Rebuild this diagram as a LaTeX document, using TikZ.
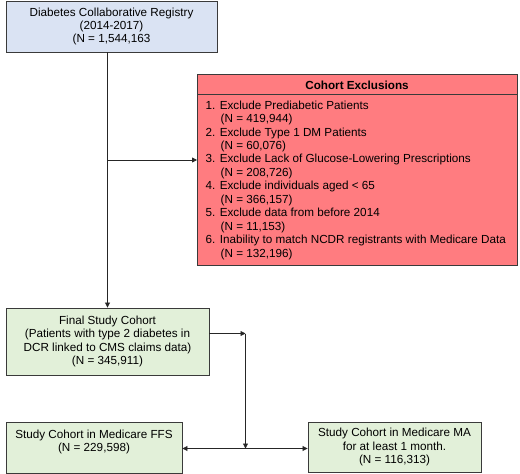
\documentclass[tikz,border=0pt]{standalone}
\usepackage{fontspec}
\setmainfont{Liberation Sans}
\usetikzlibrary{arrows.meta,calc}
\definecolor{bluefill}{HTML}{DAE3F3}
\definecolor{greenfill}{HTML}{E2F0D9}
\definecolor{redfill}{HTML}{FF7C80}
\definecolor{edgecol}{HTML}{3A3A3A}
\tikzset{
  box/.style={draw=edgecol, line width=0.9pt, align=center, inner sep=0pt,
    font=\fontsize{11.7}{13.4}\selectfont},
  bluebox/.style={box, fill=bluefill},
  greenbox/.style={box, fill=greenfill},
  redbox/.style={box, fill=redfill},
  conn/.style={draw=black!85, line width=0.8pt},
  arr/.style={conn, -{Triangle[length=5pt,width=5pt]}},
  biarr/.style={conn, {Triangle[length=5pt,width=5pt]}-{Triangle[length=5pt,width=5pt]}},
  txt/.style={inner sep=0pt, font=\fontsize{11.7}{13.45}\selectfont}
}
\begin{document}
\begin{tikzpicture}[x=1pt,y=-1pt]
\useasboundingbox (0,0) rectangle (520,474);
% boxes
\node[bluebox, minimum width=211pt, minimum height=51pt] (dcr) at (111.5,26.5)
  {Diabetes Collaborative Registry\\(2014-2017)\\(N = 1,544,163};
\node[redbox, minimum width=320pt, minimum height=191pt, anchor=north west] (excl) at (197,74) {};
\draw[edgecol, line width=0.9pt] (197,94) -- (517,94);
\node[txt] (exhead) at (357,85) {\bfseries Cohort Exclusions};
\node[txt, anchor=north west, align=left] (exlist) at (205.5,100.5)
  {1. Exclude Prediabetic Patients\\
   \hspace*{15pt}(N = 419,944)\\
   2. Exclude Type 1 DM Patients\\
   \hspace*{15pt}(N = 60,076)\\
   3. Exclude Lack of Glucose-Lowering Prescriptions\\
   \hspace*{15pt}(N = 208,726)\\
   4. Exclude individuals aged < 65\\
   \hspace*{15pt}(N = 366,157)\\
   5. Exclude data from before 2014\\
   \hspace*{15pt}(N = 11,153)\\
   6. Inability to match NCDR registrants with Medicare Data\\
   \hspace*{15pt}(N = 132,196)};
\node[greenbox, minimum width=203pt, minimum height=67pt] (final) at (107.5,341.5)
  {Final Study Cohort\\(Patients with type 2 diabetes in\\DCR linked to CMS claims data)\\(N = 345,911)};
\node[greenbox, minimum width=176pt, minimum height=51pt] (ffs) at (94,447.5)
  {Study Cohort in Medicare FFS\\(N = 229,598)\\\mbox{}};
\node[greenbox, minimum width=173pt, minimum height=50pt] (ma) at (394.5,447)
  {Study Cohort in Medicare MA\\for at least 1 month.\\(N = 116,313)};
% connectors
\coordinate (j1) at (final.north |- 0,160);
\coordinate (c1) at (245.5,333.5);
\coordinate (c2) at (245.5,448.5);
\draw[arr] (dcr.south -| final.north) -- (final.north);
\draw[arr] (j1) -- (j1 -| excl.west);
\draw[arr] (final.east |- c1) -- (c1);
\draw[arr] (c1) -- (c2);
\draw[biarr] (ffs.east |- c2) -- (ma.west |- c2);
\end{tikzpicture}
\end{document}
